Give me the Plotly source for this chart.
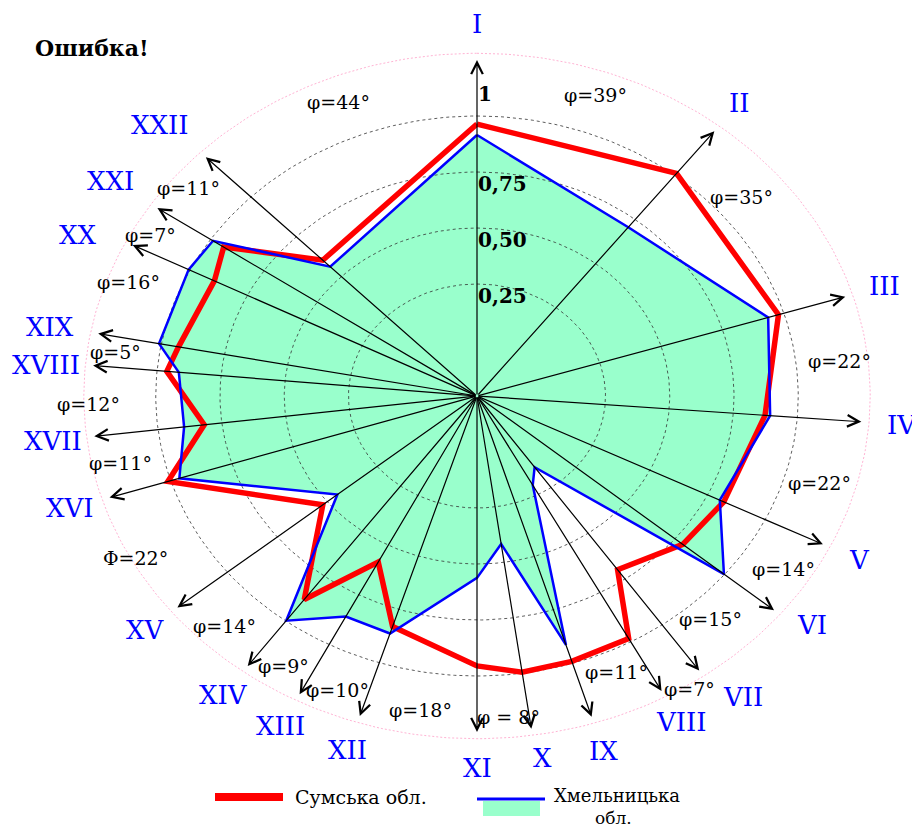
import numpy as np
import plotly.graph_objects as go

# ---------------- data ----------------
axis_labels = ["I", "II", "III", "IV", "V", "VI", "VII", "VIII", "IX", "X", "XI",
               "XII", "XIII", "XIV", "XV", "XVI", "XVII", "XVIII", "XIX", "XX", "XXI", "XXII"]
# direction of every axis, degrees clockwise from the top
axis_angle_deg = [0.0, 38.0, 72.8, 94.4, 116.2, 129.6, 144.8, 151.4, 162.7, 171.9, 180.0,
                  197.7, 207.4, 216.5, 231.0, 252.4, 263.1, 275.2, 280.7, 296.7, 304.0, 315.3]
# label of the gap that follows each axis (axis k -> axis k+1)
gap_labels = ["φ=39°", "φ=35°", "φ=22°", "φ=22°", "φ=14°", "φ=15°", "φ=7°", "φ=11°", "",
              "φ = 8°", "φ=18°", "φ=10°", "φ=9°", "φ=14°", "Φ=22°", "φ=11°", "φ=12°",
              "φ=5°", "φ=16°", "φ=7°", "φ=11°", "φ=44°"]
sumy = [0.964, 1.011, 0.978, 0.874, 0.820, 0.789, 0.699, 0.983, 0.991, 0.995, 0.955,
        0.830, 0.585, 0.880, 0.522, 1.012, 0.819, 0.962, 0.932, 0.894, 0.939, 0.603]
khmel = [0.915, 0.706, 0.936, 0.894, 0.803, 0.997, 0.139, 0.203, 0.914, 0.417, 0.562,
         0.863, 0.859, 0.998, 0.449, 0.965, 0.898, 0.915, 1.009, 1.006, 0.989, 0.562]
radial_ticks = [0.25, 0.50, 0.75, 1.0]
radial_tick_text = ["0,25", "0,50", "0,75", "1"]
series_names = ["Сумська обл.", "Хмельницька", "обл."]
title_text = "Ошибка!"

# ---------------- layout constants ----------------
R0 = 0.25          # radial offset of the zero level
R_ARROW = 1.25     # arrow tip level
R_OUTER = 1.28     # pink outer ring level
R_NUM = 1.41       # roman numeral level
R_GAP = 1.17       # gap label level
# pixel nudges (dx right, dy down) for hand-placed labels
NUM_NUDGE = {6: (20, -3), 5: (6, -8), 9: (5, -6), 17: (-6, 3), 18: (-8, 0),
             19: (-18, 6), 20: (-13, -7), 21: (-17, -7)}
GAP_NUDGE = {1: (-36, -18), 3: (-10, 3), 5: (-14, -10), 6: (20, 23), 7: (-3, -17),
             14: (-20, 11), 16: (-24, 3), 18: (-3, -12), 19: (-12, 0), 20: (-8, -5),
             9: (6, 4)}

theta = np.radians(np.array(axis_angle_deg))


def to_xy(r, th):
    rr = np.asarray(r, dtype=float) + R0
    return rr * np.sin(th), rr * np.cos(th)


OFF = 8                      # page body margin
W, H = 920 - OFF, 829 - OFF  # figure size
FONT = "DejaVu Serif"


def px(xp):
    return (xp - OFF) / W


def py(yp):
    return 1 - (yp - OFF) / H


fig = go.Figure()

# filled Khmelnytsky polygon
kx, ky = to_xy(khmel + khmel[:1], np.append(theta, theta[0]))
fig.add_trace(go.Scatter(x=kx, y=ky, mode="lines", fill="toself", fillcolor="#99ffcc",
                         line=dict(width=0, color="#99ffcc"), hoverinfo="skip", showlegend=False))

# grid rings
t = np.linspace(0, 2 * np.pi, 361)
for rv in radial_ticks:
    gx, gy = to_xy(np.full_like(t, rv), t)
    fig.add_trace(go.Scatter(x=gx, y=gy, mode="lines", hoverinfo="skip", showlegend=False,
                             line=dict(color="#333333", width=0.8, dash="3px,3px")))
ox, oy = to_xy(np.full_like(t, R_OUTER), t)
fig.add_trace(go.Scatter(x=ox, y=oy, mode="lines", hoverinfo="skip", showlegend=False,
                         line=dict(color="#ff9fc8", width=0.8, dash="2px,2px")))

# Sumy line
sx, sy = to_xy(sumy + sumy[:1], np.append(theta, theta[0]))
fig.add_trace(go.Scatter(x=sx, y=sy, mode="lines", name=series_names[0],
                         line=dict(color="#ff0000", width=5.5), showlegend=False))
# Khmelnytsky line
fig.add_trace(go.Scatter(x=kx, y=ky, mode="lines", name=series_names[1] + " " + series_names[2],
                         line=dict(color="#0000ff", width=2.5), showlegend=False))

annotations = []
# axis arrows
tx, ty = to_xy(np.full(len(theta), R_ARROW), theta)
for xi, yi in zip(tx, ty):
    annotations.append(dict(x=xi, y=yi, ax=0, ay=0, xref="x", yref="y", axref="x", ayref="y",
                            text="", showarrow=True, arrowhead=5, arrowsize=1.9,
                            arrowwidth=1.2, arrowcolor="black", standoff=0, startstandoff=0))
# roman numerals
nx, ny = to_xy(np.full(len(theta), R_NUM), theta)
for i, (lab, xi, yi) in enumerate(zip(axis_labels, nx, ny)):
    dx, dy = NUM_NUDGE.get(i, (0, 0))
    annotations.append(dict(x=xi, y=yi, xref="x", yref="y", text=lab, showarrow=False,
                            xshift=dx, yshift=-dy,
                            font=dict(family=FONT, size=26, color="#0000ff")))
# gap labels at mid angles
ang = np.array(axis_angle_deg)
nxt = np.append(ang[1:], 360.0)
mid = np.radians((ang + nxt) / 2)
gx2, gy2 = to_xy(np.full(len(mid), R_GAP), mid)
for i, (lab, xi, yi) in enumerate(zip(gap_labels, gx2, gy2)):
    if lab:
        dx, dy = GAP_NUDGE.get(i, (0, 0))
        annotations.append(dict(x=xi, y=yi, xref="x", yref="y", text=lab, showarrow=False,
                                xshift=dx, yshift=-dy,
                                font=dict(family=FONT, size=19, color="black")))
# radial tick labels
for rv, lab in zip(radial_ticks, radial_tick_text):
    if lab == "1":
        annotations.append(dict(x=0, y=rv + R0, xref="x", yref="y", text="<b>1</b>",
                                showarrow=False, xanchor="left", yanchor="bottom",
                                xshift=-1, yshift=8,
                                font=dict(family=FONT, size=20, color="black")))
    else:
        annotations.append(dict(x=0, y=rv + R0, xref="x", yref="y", text="<b>" + lab + "</b>",
                                showarrow=False, xanchor="left", yanchor="top",
                                xshift=-1, yshift=2,
                                font=dict(family=FONT, size=20, color="black")))
# title
annotations.append(dict(x=px(33), y=py(48), xref="paper", yref="paper",
                        text="<b>" + title_text + "</b>", showarrow=False,
                        xanchor="left", yanchor="middle",
                        font=dict(family=FONT, size=22, color="black")))
# legend texts
annotations.append(dict(x=px(293), y=py(797), xref="paper", yref="paper", text=series_names[0],
                        showarrow=False, xanchor="left", yanchor="middle",
                        font=dict(family=FONT, size=19, color="black")))
annotations.append(dict(x=px(617), y=py(807), xref="paper", yref="paper", text=series_names[1],
                        showarrow=False, xanchor="center", yanchor="bottom", borderpad=0,
                        font=dict(family=FONT, size=18, color="black")))
annotations.append(dict(x=px(613), y=py(807), xref="paper", yref="paper", text=series_names[2],
                        showarrow=False, xanchor="center", yanchor="top", borderpad=0,
                        font=dict(family=FONT, size=17, color="black")))

shapes = [
    dict(type="line", xref="paper", yref="paper", x0=px(215), x1=px(283), y0=py(797), y1=py(797),
         line=dict(color="#ff0000", width=8)),
    dict(type="rect", xref="paper", yref="paper", x0=px(483), x1=px(540), y0=py(801), y1=py(816),
         fillcolor="#99ffcc", line=dict(width=0)),
    dict(type="line", xref="paper", yref="paper", x0=px(477), x1=px(545), y0=py(799), y1=py(799),
         line=dict(color="#0000ff", width=3)),
]

CX, CY = 477 - OFF, 396 - OFF
SX, SY = 257.0, 224.0
fig.update_layout(
    width=W, height=H,
    margin=dict(l=0, r=0, t=0, b=0),
    paper_bgcolor="white", plot_bgcolor="white",
    xaxis=dict(range=[-CX / SX, (W - CX) / SX], visible=False, fixedrange=True),
    yaxis=dict(range=[-(H - CY) / SY, CY / SY], visible=False, fixedrange=True),
    annotations=annotations,
    shapes=shapes,
    showlegend=False,
)

fig.write_html("out.html")
